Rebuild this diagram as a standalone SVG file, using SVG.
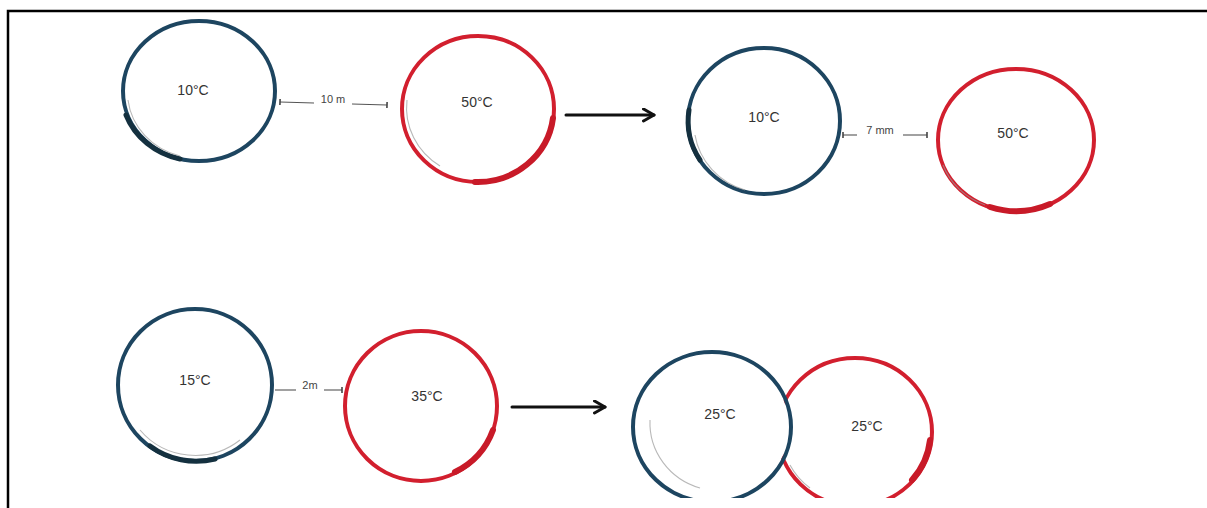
<svg xmlns="http://www.w3.org/2000/svg" width="1207" height="508" viewBox="0 0 1207 508">
  <style>
    .cold { fill: none; stroke: #1d4560; stroke-width: 4; }
    .hot { fill: none; stroke: #d21f2e; stroke-width: 4; }
    .heavy-cold { fill: none; stroke: #14303f; stroke-width: 5; stroke-linecap: round; }
    .heavy-hot { fill: none; stroke: #c81a28; stroke-width: 6; stroke-linecap: round; }
    .pencil { fill: none; stroke: #9a9a9a; stroke-width: 1.1; opacity: 0.7; }
    .temp { font-family: "Liberation Sans", Arial, sans-serif; font-size: 14px; fill: #333; text-anchor: middle; dominant-baseline: middle; }
    .gap { font-family: "Liberation Sans", Arial, sans-serif; font-size: 11px; fill: #444; text-anchor: middle; }
    .dim { stroke: #555; stroke-width: 1.1; fill: none; }
    .flow { stroke: #111; stroke-width: 3; fill: none; stroke-linecap: round; }
    .frame { stroke: #000; stroke-width: 2.5; fill: none; }
  </style>
  <defs>
    <marker id="chevron" viewBox="0 0 10 10" refX="8" refY="5" markerWidth="5" markerHeight="5" markerUnits="strokeWidth" orient="auto">
      <path d="M1,1 L8,5 L1,9" fill="none" stroke="#111" stroke-width="2" stroke-linecap="round" stroke-linejoin="round"/>
    </marker>
    <marker id="tick" viewBox="0 0 4 8" refX="2" refY="4" markerWidth="4" markerHeight="8" markerUnits="userSpaceOnUse" orient="auto">
      <line x1="2" y1="1" x2="2" y2="7" stroke="#444" stroke-width="1.6"/>
    </marker>
    <clipPath id="sheet">
      <rect x="0" y="0" width="1207" height="498"/>
    </clipPath>
    <!-- hides the part of the warm body that lies behind the cool one once they touch -->
    <mask id="behind-cold">
      <rect x="0" y="0" width="1207" height="508" fill="#fff"/>
      <ellipse cx="712" cy="427" rx="77" ry="73" fill="#000"/>
    </mask>
  </defs>

  <rect x="0" y="0" width="1207" height="508" fill="#fff"/>

  <g clip-path="url(#sheet)">
    <!-- upper row, before -->
    <g id="cold-a">
      <ellipse class="cold" cx="199" cy="91" rx="76" ry="70"/>
      <path class="heavy-cold" d="M126,115 A76,70 0 0 0 180,159"/>
      <path class="pencil" d="M128,100 A72,66 0 0 0 180,156"/>
      <text class="temp" x="193" y="91">10°C</text>
    </g>
    <g id="hot-a">
      <ellipse class="hot" cx="478" cy="109" rx="76" ry="73"/>
      <path class="heavy-hot" d="M553,118 A76,73 0 0 1 475,182"/>
      <path class="pencil" d="M407,100 A72,69 0 0 0 440,166"/>
      <text class="temp" x="477" y="103">50°C</text>
    </g>

    <!-- upper row, after -->
    <g id="cold-b">
      <ellipse class="cold" cx="764" cy="121" rx="76" ry="73"/>
      <path class="heavy-cold" d="M689,110 A76,73 0 0 0 700,160"/>
      <path class="pencil" d="M695,135 A72,69 0 0 0 745,190"/>
      <text class="temp" x="764" y="118">10°C</text>
    </g>
    <g id="hot-b">
      <ellipse class="hot" cx="1016" cy="140" rx="78" ry="71"/>
      <path class="heavy-hot" d="M990,207 A78,71 0 0 0 1050,204"/>
      <path class="pencil" d="M943,165 A74,67 0 0 0 985,205"/>
      <text class="temp" x="1013" y="134">50°C</text>
    </g>

    <!-- lower row, before -->
    <g id="cold-c">
      <ellipse class="cold" cx="195" cy="385" rx="77" ry="76"/>
      <path class="heavy-cold" d="M150,446 A77,76 0 0 0 215,459"/>
      <path class="pencil" d="M140,430 A72,71 0 0 0 240,440"/>
      <text class="temp" x="195" y="381">15°C</text>
    </g>
    <g id="hot-c">
      <ellipse class="hot" cx="421" cy="406" rx="76" ry="75"/>
      <path class="heavy-hot" d="M493,430 A76,75 0 0 1 455,472"/>
      <text class="temp" x="427" y="397">35°C</text>
    </g>

    <!-- lower row, after: the two bodies in contact -->
    <g id="hot-d">
      <ellipse class="hot" cx="855" cy="432" rx="77" ry="74" mask="url(#behind-cold)"/>
      <path class="heavy-hot" d="M930,440 A77,74 0 0 1 912,480"/>
      <path class="pencil" d="M790,465 A70,68 0 0 0 810,488"/>
      <text class="temp" x="867" y="427">25°C</text>
    </g>
    <g id="cold-d">
      <ellipse class="cold" cx="712" cy="427" rx="79" ry="75"/>
      <path class="pencil" d="M650,420 A70,68 0 0 0 700,488"/>
      <text class="temp" x="720" y="415">25°C</text>
    </g>

    <!-- connectors: separation gaps and process arrows -->
    <g id="connectors">
      <line class="dim" x1="280" y1="102" x2="314" y2="103" marker-start="url(#tick)"/>
      <line class="dim" x1="352" y1="104" x2="387" y2="105" marker-end="url(#tick)"/>
      <text class="gap" x="333" y="103">10 m</text>

      <line class="dim" x1="843" y1="135" x2="857" y2="135" marker-start="url(#tick)"/>
      <line class="dim" x1="903" y1="135" x2="927" y2="135" marker-end="url(#tick)"/>
      <text class="gap" x="880" y="134">7 mm</text>

      <line class="dim" x1="275" y1="390" x2="296" y2="390"/>
      <line class="dim" x1="324" y1="390" x2="342" y2="390" marker-end="url(#tick)"/>
      <text class="gap" x="310" y="389">2m</text>

      <line class="flow" x1="566" y1="115" x2="654" y2="115" marker-end="url(#chevron)"/>
      <line class="flow" x1="512" y1="407" x2="605" y2="407" marker-end="url(#chevron)"/>
    </g>
  </g>

  <!-- page border -->
  <path class="frame" d="M8,508 L8,11 L1207,11"/>
</svg>
